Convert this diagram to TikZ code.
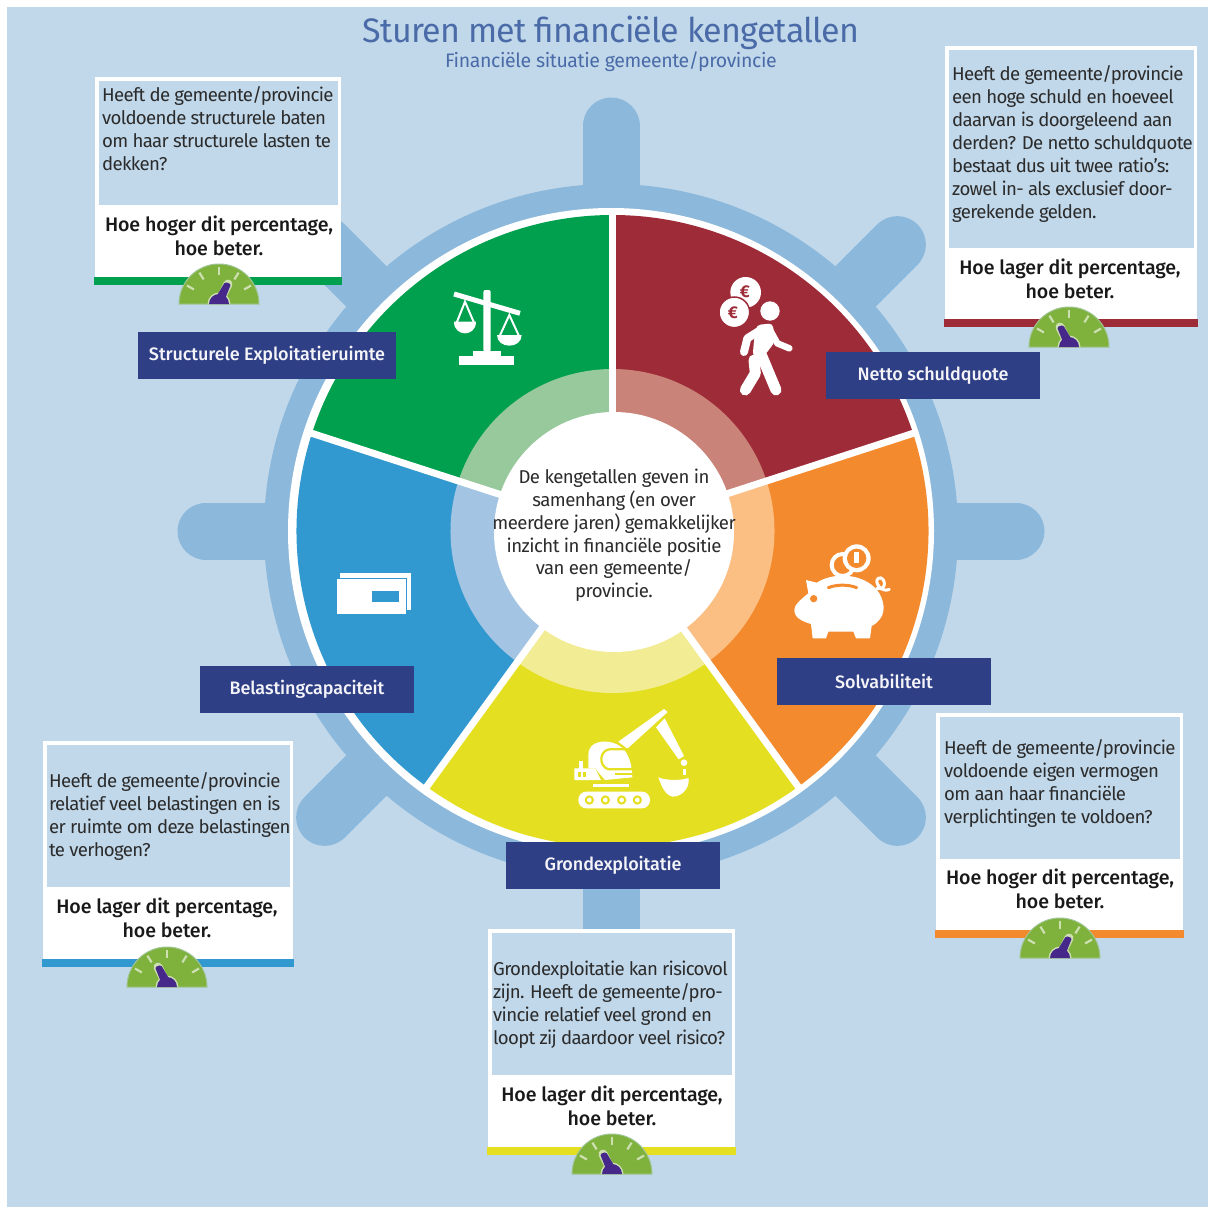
\documentclass[tikz,border=0pt]{standalone}
\usepackage{fontspec}
\setmainfont{Fira Sans}
\newfontfamily\bodyfont[LetterSpace=-3.6]{Fira Sans}
\newfontfamily\centrefont[LetterSpace=-2.8]{Fira Sans}
\newfontfamily\titlefont[LetterSpace=-2.3]{Fira Sans}
\newfontfamily\subfont[LetterSpace=-2]{Fira Sans}
\newfontfamily\medfont[LetterSpace=-0.5]{Fira Sans Medium}
\definecolor{bgblue}{HTML}{C1D8EA}
\definecolor{wheel}{HTML}{8CB8DC}
\definecolor{labelblue}{HTML}{2F3F85}
\definecolor{titleblue}{HTML}{4A6BA8}
\definecolor{cgreen}{HTML}{00A04E}
\definecolor{cred}{HTML}{9E2B38}
\definecolor{corange}{HTML}{F38A2E}
\definecolor{cyellow}{HTML}{E5DF22}
\definecolor{cblue}{HTML}{3199CF}
\definecolor{tgreen}{HTML}{97C99C}
\definecolor{tred}{HTML}{C98378}
\definecolor{torange}{HTML}{FBBE83}
\definecolor{tyellow}{HTML}{F2EC94}
\definecolor{tblue}{HTML}{A3C5E3}
\definecolor{gaugegreen}{HTML}{7FB13D}
\definecolor{needle}{HTML}{46288A}
\definecolor{ink}{HTML}{2B2B2B}
\newcommand{\sector}[5]{%
  \fill[#5] (0,0) -- (#1:#3) arc[start angle=#1,end angle=#2,radius=#3] -- cycle;}
\newcommand{\infobox}[6]{%
  \fill[white] (#1,#2) rectangle (#3,#4);
  \fill[bgblue] (#1+4,#2+4) rectangle (#3-3.5,#5);
  \fill[#6] (#1-1,#4-3) rectangle (#3+1,#4+4.5);}
\newcommand{\gauge}[3]{%
  \begin{scope}[shift={(#1,#2)}]
    \fill[gaugegreen,draw=bgblue!50!gaugegreen,line width=1pt] (-40,0) arc[start angle=180,end angle=360,radius=40] -- cycle;
    \foreach \a in {30,58,90,122,150}
      \draw[white!60!gaugegreen,line width=2.2pt] (-\a:29) -- (-\a:37);
    \begin{scope}[xscale=#3]
      \draw[white!60!gaugegreen,line width=9pt,line cap=round] (3,-8) -- (9,-20);
      \fill[white!60!gaugegreen] (-11.5,0) arc[start angle=180,end angle=360,radius=11.5] -- cycle;
      \fill[needle] (-10,0) arc[start angle=180,end angle=360,radius=10] -- cycle;
      \fill[needle,rounded corners=1.5pt] (-3,-7) -- (6,-22) -- (12,-20) -- (6,-5) -- cycle;
    \end{scope}
  \end{scope}}
\tikzset{
  x=1pt,y=-1pt,
  tag/.style={fill=labelblue,text=white!95!labelblue,minimum height=47,inner sep=0pt,font=\medfont\fontsize{18}{22}\selectfont},
  body/.style={anchor=north west,inner sep=0pt,align=left,text=ink,font=\bodyfont\fontsize{18.6}{23}\selectfont},
  verdict/.style={anchor=center,inner sep=0pt,align=center,text=black!90,font=\medfont\fontsize{19.6}{24.4}\selectfont},
  spoke/.style={wheel,line width=57pt,line cap=round},
}
\begin{document}
\begin{tikzpicture}
\useasboundingbox (0,0) rectangle (1208,1207);
\fill[white] (0,0) rectangle (1208,1207);
\fill[bgblue] (7,7) rectangle (1208,1207);

% title
\node[inner sep=0pt,text=titleblue,font=\titlefont\fontsize{34}{38}\selectfont] (title) at (611,33) {Sturen met financiële kengetallen};
\node[inner sep=0pt,text=titleblue,font=\subfont\fontsize{19.5}{24}\selectfont] (subtitle) at (611,62) {Financiële situatie gemeente/provincie};

% wheel
\begin{scope}[shift={(611,531)}]
  \foreach \a in {0,45,...,315}
    \draw[spoke] (0,0) -- (\a:405);
  \fill[wheel] (0,0) circle[radius=347];
  \fill[white] (0,0) circle[radius=323];
\end{scope}
\begin{scope}[shift={(612.5,531)}]
  \sector{-90}{-18}{316}{}{cred}
  \sector{-18}{54}{316}{}{corange}
  \sector{54}{126}{316}{}{cyellow}
  \sector{126}{198}{316}{}{cblue}
  \sector{198}{270}{316}{}{cgreen}
  \sector{-90}{-18}{162}{}{tred}
  \sector{-18}{54}{162}{}{torange}
  \sector{54}{126}{162}{}{tyellow}
  \sector{126}{198}{162}{}{tblue}
  \sector{198}{270}{162}{}{tgreen}
  \foreach \a in {-90,-18,54,126,198}
    \draw[white,line width=7pt] (0,0) -- (\a:321);
  \fill[white] (1.5,1) circle[radius=120];
\end{scope}
\node[inner sep=0pt,align=center,text=ink,font=\centrefont\fontsize{18.6}{22.8}\selectfont] (centre) at (614,535.5)
 {De kengetallen geven in\\samenhang (en over\\meerdere jaren) gemakkelijker\\inzicht in financiële positie\\van een gemeente/\\provincie.};

% scales icon
\begin{scope}[shift={(440,280)},scale=1/3]
  \fill[white] (58,228) rectangle (222,255);
  \fill[white] (100,212) rectangle (182,228);
  \fill[white,rounded corners=2pt] (130,30) rectangle (152,215);
  \draw[white,line width=5pt] (42,42) -- (240,100);
  \draw[white,line width=2pt] (50,128) -- (75,65) -- (102,128);
  \fill[white] (42,125) -- (108,125) .. controls (108,150) and (90,160) .. (75,160) .. controls (60,160) and (42,150) .. (42,125) -- cycle;
  \draw[white,line width=2pt] (179,168) -- (208,105) -- (237,168);
  \fill[white] (171,165) -- (245,165) .. controls (245,185) and (228,197) .. (208,197) .. controls (188,197) and (171,185) .. (171,165) -- cycle;
\end{scope}

% walker icon
\begin{scope}[shift={(690,240)},scale=1/3]
  \fill[white] (167,157) circle[radius=46];
  \draw[cred,line width=1.5pt,fill=white] (133,217) circle[radius=46];
  \node[inner sep=0pt,text=cred,font=\fontsize{17}{17}\selectfont\bfseries] (euroa) at (165,156) {€};
  \node[inner sep=0pt,text=cred,font=\fontsize{17}{17}\selectfont\bfseries] (eurob) at (129,218) {€};
  \fill[white] (240,213) circle[radius=29];
  \fill[white,rounded corners=4pt] (200,255) -- (248,250) -- (255,305) -- (225,345) -- (188,350) -- (192,300) -- cycle;
  \draw[white,line width=8pt,line cap=round,line join=round] (215,268) -- (172,295) -- (162,336);
  \draw[white,line width=6.5pt,line cap=round,line join=round] (240,270) -- (262,310) -- (298,325);
  \draw[white,line width=11pt,line cap=round] (212,340) -- (258,450);
  \draw[white,line width=11pt,line cap=round,line join=round] (192,360) -- (196,400) -- (166,450);
\end{scope}

% piggy icon
\begin{scope}[shift={(760,530)},scale=1/3]
  \draw[white,line width=4pt] (248,105) circle[radius=33];
  \fill[white] (290,85) circle[radius=42];
  \fill[corange] (290,85) circle[radius=29];
  \fill[white] (283,65) rectangle (296,100);
  \fill[white] (103,240) .. controls (103,225) and (120,210) .. (145,190) -- (138,150) -- (170,158) .. controls (230,120) and (325,135) .. (358,190) .. controls (378,225) and (378,265) .. (335,288) -- (330,325) -- (288,325) -- (280,305) -- (205,305) -- (198,325) -- (158,325) -- (153,282) .. controls (130,275) and (103,265) .. (103,240) -- cycle;
  \fill[corange] (161,206) circle[radius=11];
  \draw[corange,line width=3pt,line cap=round] (205,173) .. controls (230,163) and (265,163) .. (290,173);
  \draw[white,line width=3pt,line cap=round] (350,175) .. controls (385,185) and (375,135) .. (355,145) .. controls (340,155) and (365,190) .. (388,178);
\end{scope}

% envelope icon
\begin{scope}[shift={(320,560)},scale=1/3]
  \fill[white] (60,40) rectangle (273,150);
  \fill[white,draw=cblue,line width=1.6pt] (48,55) rectangle (260,165);
  \fill[cblue] (157,93) rectangle (238,127);
\end{scope}

% excavator icon
\begin{scope}[shift={(540,690)},scale=1/3]
  \fill[white,line join=round] (235,155) -- (372,57) -- (383,66) -- (262,176) -- cycle;
  \fill[white] (348,112) -- (374,85) -- (432,198) -- (416,208) -- cycle;
  \fill[white] (432,218) circle[radius=10];
  \fill[white] (428,238) rectangle (438,254);
  \fill[white] (355,262) .. controls (380,272) and (420,272) .. (446,264) .. controls (450,295) and (425,320) .. (398,320) .. controls (375,315) and (365,290) .. (355,262) -- cycle;
  \fill[white] (145,195) .. controls (145,165) and (170,153) .. (200,155) .. controls (245,158) and (275,190) .. (277,262) -- (195,270) -- (165,235) -- (145,235) -- cycle;
  \fill[white] (103,235) -- (165,235) -- (183,270) -- (103,270) -- cycle;
  \fill[white] (117,212) rectangle (128,236);
  \fill[cyellow] (115,247) rectangle (123,260);
  \fill[cyellow] (130,247) rectangle (138,260);
  \draw[cyellow,line width=2.2pt] (278,178) -- (208,178) .. controls (178,182) and (175,228) .. (205,238) -- (278,238);
  \draw[cyellow,line width=1.4pt] (225,252) -- (278,252);
  \fill[white] (158,282) rectangle (266,292);
  \fill[white,rounded corners=8pt] (115,305) rectangle (330,355);
  \foreach \x in {148,196,245,292}{
    \fill[cyellow] (\x,330) circle[radius=14];
    \fill[white] (\x,330) circle[radius=7];
  }
\end{scope}

% question boxes
\infobox{95}{77}{341}{280}{205}{cgreen}
\gauge{219}{304}{1}
\node[body] (q1) at (102,86) {Heeft de gemeente/provincie\\voldoende structurele baten\\om haar structurele lasten te\\dekken?};
\node[verdict] (a1) at (219,236) {Hoe hoger dit percentage,\\hoe beter.};

\infobox{945}{46}{1197}{322}{248}{cred}
\gauge{1069}{347}{-1}
\node[body] (q2) at (952,65) {Heeft de gemeente/provincie\\een hoge schuld en hoeveel\\daarvan is doorgeleend aan\\derden? De netto schuldquote\\bestaat dus uit twee ratio’s:\\zowel in- als exclusief door-\\gerekende gelden.};
\node[verdict] (a2) at (1070,279) {Hoe lager dit percentage,\\hoe beter.};

\infobox{936}{713}{1183}{933}{859}{corange}
\gauge{1060}{958}{1}
\node[body] (q3) at (944,739) {Heeft de gemeente/provincie\\voldoende eigen vermogen\\om aan haar financiële\\verplichtingen te voldoen?};
\node[verdict] (a3) at (1060,889) {Hoe hoger dit percentage,\\hoe beter.};

\infobox{43}{741}{293}{962}{887}{cblue}
\gauge{167}{987}{-1}
\node[body] (q4) at (49,772) {Heeft de gemeente/provincie\\relatief veel belastingen en is\\er ruimte om deze belastingen\\te verhogen?};
\node[verdict] (a4) at (167,918) {Hoe lager dit percentage,\\hoe beter.};

\infobox{488}{929}{735}{1150}{1075}{cyellow}
\gauge{612}{1174}{-1}
\node[body] (q5) at (493,961) {Grondexploitatie kan risicovol\\zijn. Heeft de gemeente/pro-\\vincie relatief veel grond en\\loopt zij daardoor veel risico?};
\node[verdict] (a5) at (612,1106) {Hoe lager dit percentage,\\hoe beter.};

% labels
\node[tag,minimum width=258] (l1) at (267,355.5) {Structurele Exploitatieruimte};
\node[tag,minimum width=214] (l2) at (933,375.5) {Netto schuldquote};
\node[tag,minimum width=214] (l3) at (884,681.5) {Solvabiliteit};
\node[tag,minimum width=214] (l4) at (307,689) {Belastingcapaciteit};
\node[tag,minimum width=214] (l5) at (613,865.5) {Grondexploitatie};
\end{tikzpicture}
\end{document}
